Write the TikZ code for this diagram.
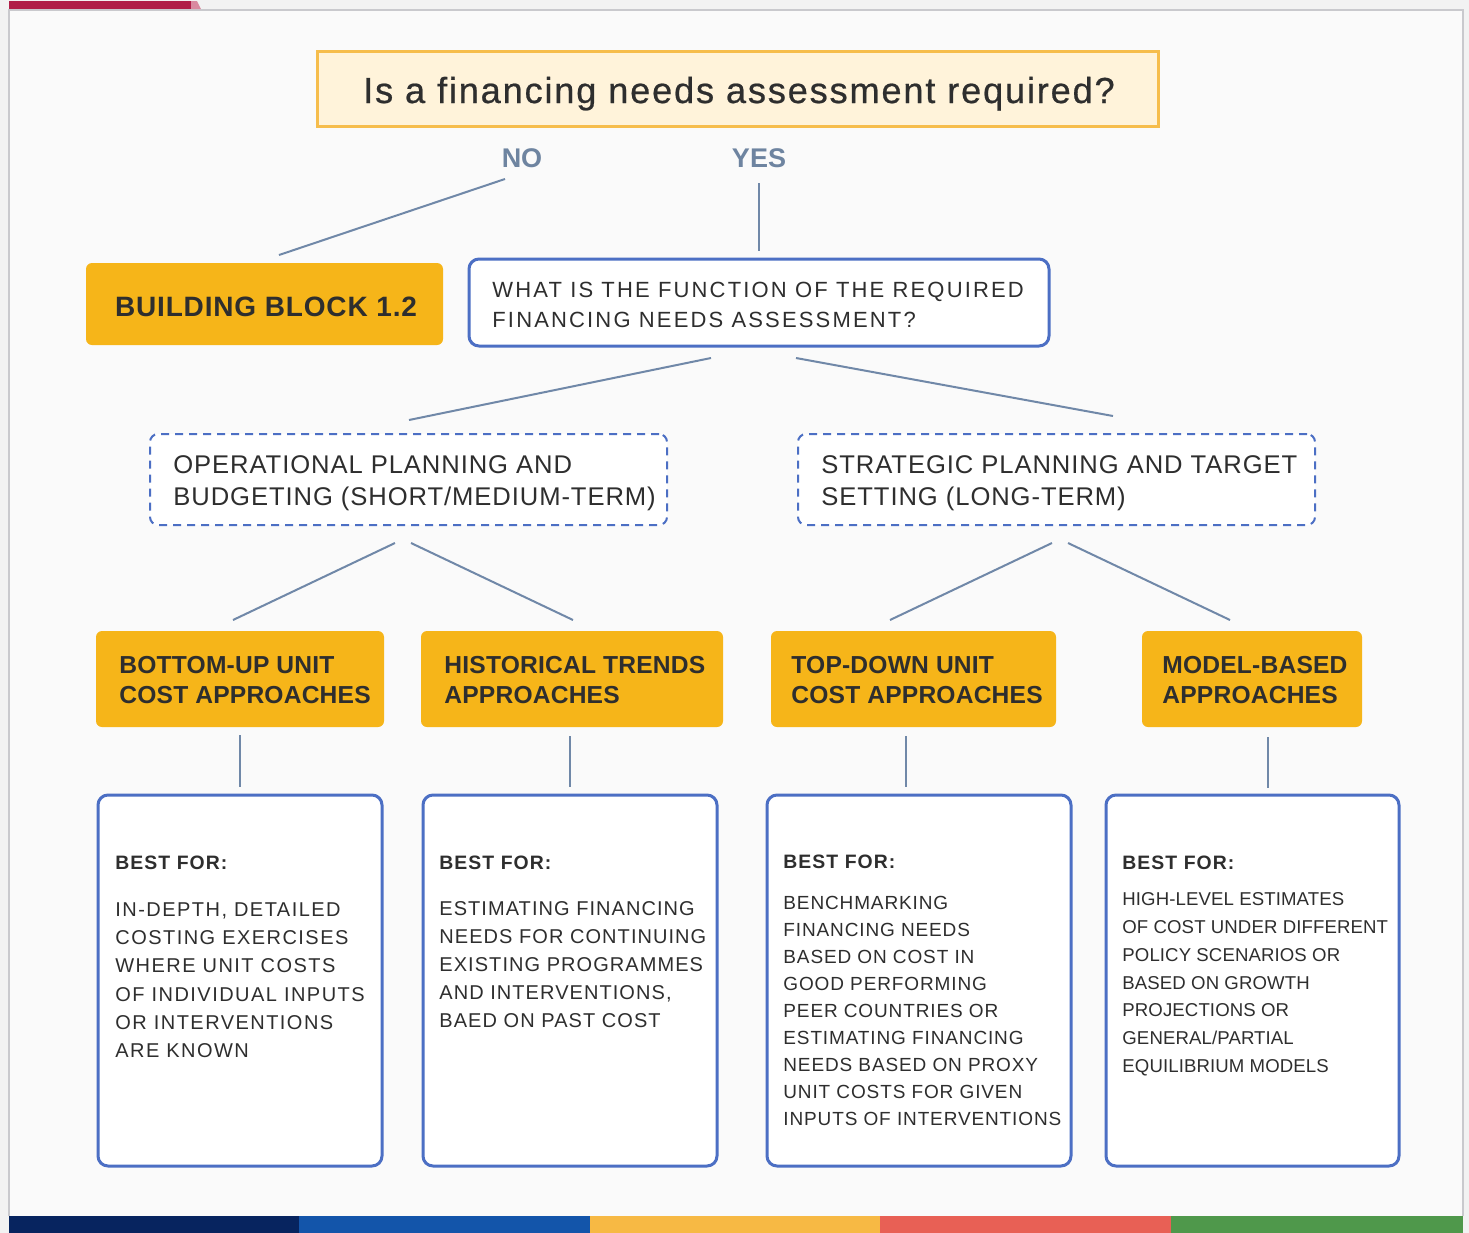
\documentclass[tikz,border=0pt]{standalone}
\usepackage{fontspec}
\setmainfont{Liberation Sans}
\usetikzlibrary{calc}
\definecolor{bgc}{HTML}{F2F2F2}
\definecolor{panelc}{HTML}{FAFAFA}
\definecolor{panelb}{HTML}{C9C9CD}
\definecolor{crim}{HTML}{B01F48}
\definecolor{pinkc}{HTML}{D98AA0}
\definecolor{amberc}{HTML}{F6B519}
\definecolor{titlef}{HTML}{FFF3DA}
\definecolor{titleb}{HTML}{F6BD4C}
\definecolor{blueb}{HTML}{4C6FC4}
\definecolor{linec}{HTML}{7088A8}
\definecolor{noc}{HTML}{6E84A0}
\definecolor{textc}{HTML}{2E2E2E}
\definecolor{barA}{HTML}{07245F}
\definecolor{barB}{HTML}{1355AA}
\definecolor{barC}{HTML}{F7B944}
\definecolor{barD}{HTML}{E86055}
\definecolor{barE}{HTML}{4F984B}
\begin{document}
\begin{tikzpicture}[x=0.5pt,y=-0.5pt,
  amberbox/.style={fill=amberc, rounded corners=3pt, draw=none, inner sep=0},
  bluebox/.style={draw=blueb, line width=1.5pt, fill=white, rounded corners=5pt, inner sep=0},
  dashbox/.style={draw=blueb, line width=1pt, dash pattern=on 4pt off 3pt, fill=white, rounded corners=4pt, inner sep=0},
  conn/.style={draw=linec, line width=1pt},
  txt/.style={anchor=north west, inner sep=0, align=left, text=textc},
  fmain/.style={font=\fontsize{11}{15}\selectfont\addfontfeature{LetterSpace=9.8}},
  fdash/.style={font=\fontsize{12.8}{16}\selectfont\addfontfeature{LetterSpace=3.6}},
  famber/.style={font=\fontsize{12.3}{15}\selectfont\bfseries\addfontfeature{LetterSpace=0.8}},
  fbest/.style={font=\fontsize{9.7}{12}\selectfont\bfseries\addfontfeature{LetterSpace=5.5}},
]
\useasboundingbox (0,0) rectangle (1469,1233);
% background
\fill[bgc] (0,0) rectangle (1469,1233);
\fill[panelc] (9,10) rectangle (1463,1216);
\draw[panelb, line width=0.75pt] (9,1216) -- (9,10) -- (1463,10) -- (1463,1216);
\fill[crim] (9,1) rectangle (191,9);
\fill[pinkc] (191,1) -- (197,1) -- (201,9) -- (191,9) -- cycle;
\fill[barA] (9,1216) rectangle (299,1233);
\fill[barB] (299,1216) rectangle (590,1233);
\fill[barC] (590,1216) rectangle (880,1233);
\fill[barD] (880,1216) rectangle (1171,1233);
\fill[barE] (1171,1216) rectangle (1463,1233);

% title
\node[draw=titleb, fill=titlef, line width=1.5pt, inner sep=0, minimum width=420.5pt, minimum height=37.5pt] (title) at (737.5,88.5) {};
\node[anchor=base, inner sep=0, text=textc, font=\fontsize{18.1}{22}\selectfont\addfontfeature{LetterSpace=5,FakeBold=0.6}] (tq) at (739,103) {Is a financing needs assessment required?};
\node[anchor=base, inner sep=0, text=noc, font=\fontsize{13.5}{16}\selectfont\bfseries] (no) at (522,167) {NO};
\node[anchor=base, inner sep=0, text=noc, font=\fontsize{13.5}{16}\selectfont\bfseries] (yes) at (759,167) {YES};

% second row
\node[amberbox, minimum width=178.5pt, minimum height=41pt] (bb) at (264.5,304) {};
\node[anchor=base, inner sep=0, text=textc, font=\fontsize{14}{17}\selectfont\bfseries\addfontfeature{LetterSpace=3}] (bbt) at (266,316) {BUILDING BLOCK 1.2};
\node[bluebox, minimum width=290pt, minimum height=43.5pt] (func) at (759,302.5) {};
\node[txt, fmain] (funct) at (492,282) {WHAT IS THE FUNCTION OF THE REQUIRED\\FINANCING NEEDS ASSESSMENT?};

% third row
\node[dashbox, minimum width=258.5pt, minimum height=45.5pt] (dl) at (408.5,479.5) {};
\node[txt, fdash] (dlt) at (173,455) {OPERATIONAL PLANNING AND\\BUDGETING (SHORT/MEDIUM-TERM)};
\node[dashbox, minimum width=258.5pt, minimum height=45.5pt] (dr) at (1056.5,479.5) {};
\node[txt, fdash] (drt) at (821,455) {STRATEGIC PLANNING AND TARGET\\SETTING (LONG-TERM)};

% amber row
\node[amberbox, minimum width=144pt, minimum height=48pt] (a1) at (240,679) {};
\node[amberbox, minimum width=151pt, minimum height=48pt] (a2) at (572,679) {};
\node[amberbox, minimum width=142.5pt, minimum height=48pt] (a3) at (913.5,679) {};
\node[amberbox, minimum width=110pt, minimum height=48pt] (a4) at (1252,679) {};
\node[txt, famber] (a1t) at (119,655.7) {BOTTOM-UP UNIT\\COST APPROACHES};
\node[txt, famber] (a2t) at (444,655.7) {HISTORICAL TRENDS\\APPROACHES};
\node[txt, famber] (a3t) at (791,655.7) {TOP-DOWN UNIT\\COST APPROACHES};
\node[txt, famber] (a4t) at (1162,655.7) {MODEL-BASED\\APPROACHES};

% bottom row
\node[bluebox, minimum width=142pt, minimum height=185.5pt] (b1) at (240,980.5) {};
\node[bluebox, minimum width=147pt, minimum height=185.5pt] (b2) at (570,980.5) {};
\node[bluebox, minimum width=152pt, minimum height=185.5pt] (b3) at (919,980.5) {};
\node[bluebox, minimum width=146.5pt, minimum height=185.5pt] (b4) at (1252.5,980.5) {};
\node[txt, fbest] (b1h) at (115,855.2) {BEST FOR:};
\node[txt, fbest] (b2h) at (439,855.2) {BEST FOR:};
\node[txt, fbest] (b3h) at (783,854.2) {BEST FOR:};
\node[txt, fbest] (b4h) at (1122,855.2) {BEST FOR:};
\node[txt, font=\fontsize{10}{14.1}\selectfont\addfontfeature{LetterSpace=7.3}] (b1t) at (115,902.3)
 {IN-DEPTH, DETAILED\\COSTING EXERCISES\\WHERE UNIT COSTS\\OF INDIVIDUAL INPUTS\\OR INTERVENTIONS\\ARE KNOWN};
\node[txt, font=\fontsize{10}{14}\selectfont\addfontfeature{LetterSpace=5.3}] (b2t) at (439,901)
 {ESTIMATING FINANCING\\NEEDS FOR CONTINUING\\EXISTING PROGRAMMES\\AND INTERVENTIONS,\\BAED ON PAST COST};
\node[txt, font=\fontsize{9.5}{13.5}\selectfont\addfontfeature{LetterSpace=4.6}] (b3t) at (783,895.5)
 {BENCHMARKING\\FINANCING NEEDS\\BASED ON COST IN\\GOOD PERFORMING\\PEER COUNTRIES OR\\ESTIMATING FINANCING\\NEEDS BASED ON PROXY\\UNIT COSTS FOR GIVEN\\INPUTS OF INTERVENTIONS};
\node[txt, font=\fontsize{9.3}{13.85}\selectfont\addfontfeature{LetterSpace=0.6}] (b4t) at (1122,892.5)
 {HIGH-LEVEL ESTIMATES\\OF COST UNDER DIFFERENT\\POLICY SCENARIOS OR\\BASED ON GROWTH\\PROJECTIONS OR\\GENERAL/PARTIAL\\EQUILIBRIUM MODELS};

% connector end points
\coordinate (n1) at (505,179); \coordinate (n2) at (279,255);
\coordinate (y1) at (759,183); \coordinate (y2) at (759,251);
\coordinate (f1) at (711,358); \coordinate (f2) at (409,420);
\coordinate (f3) at (796,358); \coordinate (f4) at (1113,416);
\coordinate (l1) at (395,543); \coordinate (l2) at (233,620);
\coordinate (l3) at (411,543); \coordinate (l4) at (573,620);
\coordinate (r1) at (1052,543); \coordinate (r2) at (890,620);
\coordinate (r3) at (1068,543); \coordinate (r4) at (1230,620);
\coordinate (v1a) at (240,735); \coordinate (v1b) at (240,787);
\coordinate (v2a) at (570,736); \coordinate (v2b) at (570,787);
\coordinate (v3a) at (906,736); \coordinate (v3b) at (906,787);
\coordinate (v4a) at (1268,737); \coordinate (v4b) at (1268,788);
\draw[conn] (n1) -- (n2);
\draw[conn] (y1) -- (y2);
\draw[conn] (f1) -- (f2);
\draw[conn] (f3) -- (f4);
\draw[conn] (l1) -- (l2);
\draw[conn] (l3) -- (l4);
\draw[conn] (r1) -- (r2);
\draw[conn] (r3) -- (r4);
\draw[conn] (v1a) -- (v1b);
\draw[conn] (v2a) -- (v2b);
\draw[conn] (v3a) -- (v3b);
\draw[conn] (v4a) -- (v4b);
\end{tikzpicture}
\end{document}
